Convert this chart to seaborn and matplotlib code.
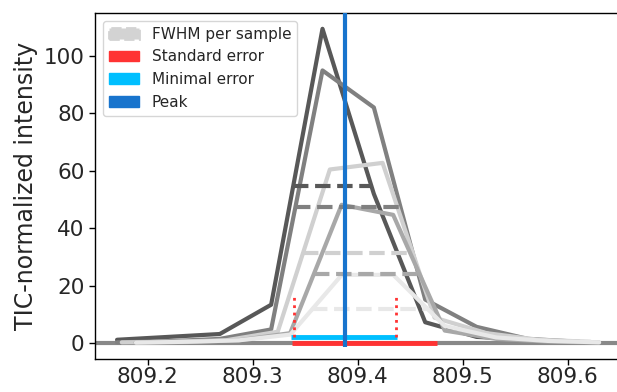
import numpy as np
import pandas as pd
import matplotlib
matplotlib.use("Agg")
import matplotlib.pyplot as plt
import matplotlib.patches as mpatches
import seaborn as sns

# m/z sampling grids and TIC-normalized intensities, one per sample
mz_s1 = [809.171, 809.2199, 809.2688, 809.3177, 809.3666, 809.4155, 809.4644, 809.5133, 809.5622]
int_s1 = [1.2, 2.2, 3.2, 13.4, 109.5, 52.0, 7.3, 2.2, 1.3]

mz_s2 = [809.171, 809.2199, 809.2688, 809.3177, 809.3666, 809.4155, 809.4644, 809.5133, 809.5622, 809.6111]
int_s2 = [0.3, 0.7, 1.5, 4.8, 95.0, 82.1, 15.2, 5.7, 1.5, 0.5]

mz_s3 = [809.1755, 809.225, 809.2745, 809.324, 809.3736, 809.4238, 809.4733, 809.5228, 809.5723, 809.6218]
int_s3 = [0.3, 0.5, 1.0, 4.0, 60.5, 62.8, 8.9, 3.5, 1.2, 0.5]

mz_s4 = [809.1887, 809.2376, 809.2866, 809.3358, 809.3848, 809.4339, 809.483, 809.532, 809.581, 809.630]
int_s4 = [0.2, 0.4, 1.0, 3.5, 48.2, 44.7, 4.4, 1.5, 0.6, 0.2]

mz_s5 = [809.189, 809.238, 809.287, 809.336, 809.385, 809.434, 809.483, 809.532, 809.581, 809.630]
int_s5 = [0.2, 0.5, 1.0, 3.0, 23.8, 23.8, 6.0, 2.0, 0.8, 0.3]

sample_names = ["S1", "S2", "S3", "S4", "S5"]
sample_colors = ["#585858", "#808080", "#d0d0d0", "#a8a8a8", "#e8e8e8"]

# consensus peak and error ranges
peak_mz = 809.388
std_err_range = [809.338, 809.476]
min_err_range = [809.337, 809.438]
min_err_level = 2.1
min_err_marker_top = 17.5

x_ticks = [809.2, 809.3, 809.4, 809.5, 809.6]
y_ticks = [0, 20, 40, 60, 80, 100]

samples = [(mz_s1, int_s1), (mz_s2, int_s2), (mz_s3, int_s3), (mz_s4, int_s4), (mz_s5, int_s5)]
frames = []
for name, (mz, inten) in zip(sample_names, samples):
    frames.append(pd.DataFrame({"mz": mz, "intensity": inten, "sample": name}))
df = pd.concat(frames, ignore_index=True)

sns.set_style("ticks")
plt.rcParams["font.family"] = ["DejaVu Sans"]

fig = plt.figure(figsize=(6.17, 3.92), dpi=100)
ax = fig.add_axes([95 / 617, 33 / 392, 522 / 617, 346 / 392])

LW = 3.0

# zero baseline
ax.axhline(0, color="#888888", lw=LW, zorder=1)

# spectra of each sample
sns.lineplot(data=df, x="mz", y="intensity", hue="sample", palette=dict(zip(sample_names, sample_colors)),
             estimator=None, sort=True, lw=LW, legend=False, ax=ax, zorder=2)


def half_max_bounds(mz, inten):
    mz = np.asarray(mz)
    inten = np.asarray(inten)
    i_pk = int(np.argmax(inten))
    half = inten[i_pk] / 2.0
    left = np.interp(half, inten[:i_pk + 1], mz[:i_pk + 1])
    right = np.interp(half, inten[i_pk:][::-1], mz[i_pk:][::-1])
    return left, right, half


# full width at half maximum for each sample
for (mz, inten), col in zip(samples, sample_colors):
    l, r, h = half_max_bounds(mz, inten)
    ax.plot([l, r], [h, h], color=col, lw=LW, ls="--", zorder=3)

# standard error and minimal error ranges
ax.plot(std_err_range, [0, 0], color="#ff3333", lw=LW + 0.5, solid_capstyle="butt", zorder=4)
ax.plot(min_err_range, [min_err_level, min_err_level], color="#00bfff", lw=LW + 0.5,
        solid_capstyle="butt", zorder=4)
for xm in min_err_range:
    ax.plot([xm + 0.002 if xm < peak_mz else xm - 0.0015] * 2, [min_err_level, min_err_marker_top],
            color="#ff3333", lw=2, ls=":", zorder=4)

# peak position
ax.plot([peak_mz, peak_mz], [-1.2, 130], color="#1874cd", lw=LW, solid_capstyle="butt", zorder=5)

ax.set_xlim(809.15, 809.647)
ax.set_ylim(-5.5, 115)
ax.set_xticks(x_ticks)
ax.set_yticks(y_ticks)
ax.set_xticklabels([f"{v:.1f}" for v in x_ticks])
ax.tick_params(labelsize=15.5, length=4, width=1, color="black")
ax.tick_params(axis="x", pad=1.5)
ax.set_xlabel("")
ax.set_ylabel("TIC-normalized intensity", fontsize=17)
ax.spines["right"].set_visible(False)
for s in ["left", "bottom", "top"]:
    ax.spines[s].set_color("black")
    ax.spines[s].set_linewidth(1.0)

handles = [
    mpatches.Patch(facecolor="lightgray", edgecolor="lightgray", ls="--", lw=2, label="FWHM per sample"),
    mpatches.Patch(color="#ff3333", label="Standard error"),
    mpatches.Patch(color="deepskyblue", label="Minimal error"),
    mpatches.Patch(color="#1874cd", label="Peak"),
]
ax.legend(handles=handles, loc="upper left", fontsize=11, frameon=True, borderaxespad=0.5)

fig.savefig("out.png", dpi=100)
